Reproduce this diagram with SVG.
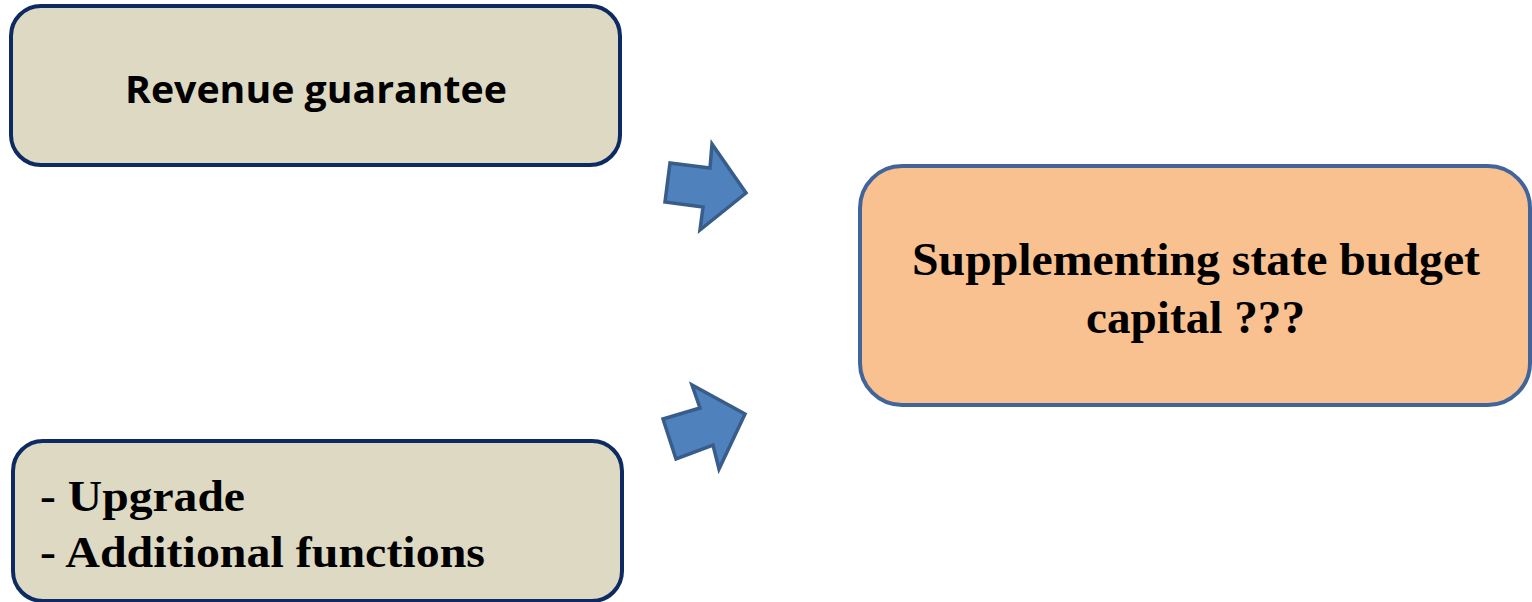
<svg xmlns="http://www.w3.org/2000/svg" width="1532" height="602" viewBox="0 0 1532 602">
<style>
.src{fill:#ddd9c3;stroke:#0e2a62;stroke-width:4}
.dst{fill:#f9c090;stroke:#41659a;stroke-width:4}
.arr{fill:#4f81bd;stroke:#385d8a;stroke-width:3.5;stroke-linejoin:miter}
.sans{font-family:"Open Sans","Liberation Sans",sans-serif;font-weight:bold;fill:#000}
.serif{font-family:"Liberation Serif","Times New Roman",serif;font-weight:bold;fill:#000}
</style>
<rect width="1532" height="602" fill="#fff"/>
<g id="node-revenue">
<rect class="src" x="11" y="6" width="609" height="159" rx="30"/>
<text class="sans" x="125" y="103" font-size="37" textLength="382" lengthAdjust="spacingAndGlyphs">Revenue guarantee</text>
</g>
<g id="node-upgrade">
<rect class="src" x="13" y="441" width="609" height="160" rx="30"/>
<text class="serif" x="40" y="511" font-size="45" textLength="205" lengthAdjust="spacingAndGlyphs">- Upgrade</text>
<text class="serif" x="40" y="567" font-size="45" textLength="445" lengthAdjust="spacingAndGlyphs">- Additional functions</text>
</g>
<g id="node-supplement">
<rect class="dst" x="860" y="166" width="670" height="239" rx="42"/>
<text class="serif" x="912" y="275" font-size="46" textLength="568" lengthAdjust="spacingAndGlyphs">Supplementing state budget</text>
<text class="serif" x="1086" y="333" font-size="46" textLength="219" lengthAdjust="spacingAndGlyphs">capital ???</text>
</g>
<g id="connectors">
<polygon class="arr" points="670,163 710,168 712,144 746,193 700,230 703,207 665,202"/>
<polygon class="arr" points="663,419 700,408 692,385 745,414 719,469 713,445 676,459"/>
</g>
</svg>
